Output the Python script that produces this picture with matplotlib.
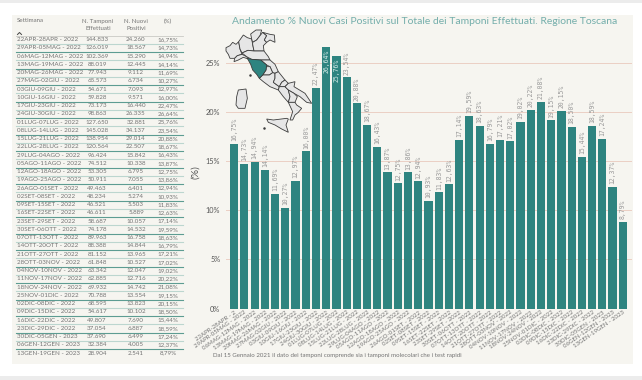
#!/bin/env python3

import matplotlib
matplotlib.use('Agg')
import matplotlib.pyplot as plt
from matplotlib.patches import Polygon, Rectangle

plt.rcParams['font.family'] = ['Lato', 'DejaVu Sans']

settimane = ['22APR-28APR', '29APR-05MAG', '06MAG-12MAG', '13MAG-19MAG', '20MAG-26MAG',
             '27MAG-02GIU', '03GIU-09GIU', '10GIU-16GIU', '17GIU-23GIU', '24GIU-30GIU',
             '01LUG-07LUG', '08LUG-14LUG', '15LUG-21LUG', '22LUG-28LUG', '29LUG-04AGO',
             '05AGO-11AGO', '12AGO-18AGO', '19AGO-25AGO', '26AGO-01SET', '02SET-08SET',
             '09SET-15SET', '16SET-22SET', '23SET-29SET', '30SET-06OTT', '07OTT-13OTT',
             '14OTT-20OTT', '21OTT-27OTT', '28OTT-03NOV', '04NOV-10NOV', '11NOV-17NOV',
             '18NOV-24NOV', '25NOV-01DIC', '02DIC-08DIC', '09DIC-15DIC', '16DIC-22DIC',
             '23DIC-29DIC', '30DIC-05GEN', '06GEN-12GEN', '13GEN-19GEN']
anni = ['2022'] * 36 + ['2023'] * 3
tamponi = ['144.833', '126.019', '102.369', '88.019', '77.943', '65.573', '54.671', '59.828',
           '73.173', '98.863', '127.650', '145.028', '138.954', '120.564', '96.424', '74.512',
           '53.305', '50.911', '49.463', '48.234', '46.521', '46.611', '58.687', '74.178',
           '89.963', '88.388', '81.152', '61.848', '63.342', '62.885', '69.932', '70.788',
           '68.595', '54.617', '49.807', '37.054', '37.690', '32.384', '28.904']
positivi = ['24.260', '18.567', '15.290', '12.445', '9.112', '6.734', '7.093', '9.571',
            '16.440', '26.335', '32.881', '34.137', '29.014', '22.507', '15.842', '10.338',
            '6.795', '7.055', '6.401', '5.274', '5.503', '5.889', '10.057', '14.532',
            '16.758', '14.844', '13.965', '10.527', '12.047', '12.716', '14.742', '13.554',
            '13.823', '10.102', '7.690', '6.887', '6.499', '4.005', '2.541']
percentuali = [16.75, 14.73, 14.94, 14.14, 11.69, 10.27, 12.97, 16.00, 22.47, 26.64, 25.76,
               23.54, 20.88, 18.67, 16.43, 13.87, 12.75, 13.86, 12.94, 10.93, 11.83, 12.63,
               17.14, 19.59, 18.63, 16.79, 17.21, 17.02, 19.02, 20.22, 21.08, 19.15, 20.15,
               18.50, 15.44, 18.59, 17.24, 12.37, 8.79]
yticks = [0, 5, 10, 15, 20, 25]

titolo = 'Andamento % Nuovi Casi Positivi sul Totale dei Tamponi Effettuati. Regione Toscana'
nota = 'Dal 15 Gennaio 2021 il dato dei tamponi comprende sia i tamponi molecolari che i test rapidi'

TEAL = '#2e8480'
GREY = '#747474'
W, H = 642, 380


def pct(v):
    return ('%.2f%%' % v).replace('.', ',')


def axes_px(x0, y0, x1, y1):
    # rectangle in picture pixels, y going down
    return [x0 / W, 1 - y1 / H, (x1 - x0) / W, (y1 - y0) / H]


fig = plt.figure(figsize=(W / 100, H / 100), dpi=100, facecolor='white')

# background, table and other text in pixel coords
bg = fig.add_axes([0, 0, 1, 1], zorder=0)
bg.set_xlim(0, W)
bg.set_ylim(H, 0)
bg.axis('off')
bg.add_patch(Rectangle((0, 0), W, 3, color='#ececec', lw=0))
bg.add_patch(Rectangle((0, 376), W, 4, color='#ececec', lw=0))
bg.add_patch(Rectangle((12, 15), 621, 349, color='#f6f5f0', lw=0))

bg.text(17, 21, 'Settimana', fontsize=4.4, color=GREY, va='center')
bg.text(98, 25, 'N. Tamponi\nEffettuati', fontsize=4.4, color=GREY, ha='center', va='center', linespacing=1.5)
bg.text(136, 25, 'N. Nuovi\nPositivi', fontsize=4.4, color=GREY, ha='center', va='center', linespacing=1.5)
bg.text(168, 21, '(%)', fontsize=4.4, color=GREY, ha='center', va='center')
bg.plot([17.5, 19.5, 21.5], [34.5, 32.5, 34.5], color='#444444', lw=0.7)
bg.plot([16, 183], [35.8, 35.8], color='#c9c9c4', lw=0.6)

for i, s in enumerate(settimane):
    y = 39.7 + 8.25 * i
    bg.text(17, y, s + ' - ' + anni[i], fontsize=4.5, color=GREY, va='center')
    bg.text(97, y, tamponi[i], fontsize=4.5, color=GREY, ha='center', va='center')
    bg.text(136, y, positivi[i], fontsize=4.5, color=GREY, ha='center', va='center')
    bg.text(168, y, pct(percentuali[i]), fontsize=4.5, color=GREY, ha='center', va='center')
    if i < len(settimane) - 1:
        col = '#5d9c92' if i % 2 else '#bcd6cf'
        bg.plot([16, 183], [y + 4.1, y + 4.1], color=col, lw=0.8)

bg.text(232, 22, titolo, fontsize=7.47, color='#74aeab', va='center')
bg.text(213, 355, nota, fontsize=4.45, color=GREY, va='center')
bg.text(196, 172, '(%)', fontsize=7.5, color='#555555', rotation=90, ha='center', va='center')

# bars
ax = fig.add_axes(axes_px(226, 38.5, 632, 308.5), zorder=1)
ax.patch.set_alpha(0)
xs = list(range(len(percentuali)))
ax.bar(xs, percentuali, width=0.8, color=TEAL, zorder=2)
ax.set_xlim(-0.80, 38.9)
ax.set_ylim(0, 27.5)
ax.set_yticks(yticks)
ax.set_yticklabels(['%d%%' % v for v in yticks], fontsize=5.3, color='#555555')
ax.yaxis.grid(True, color='#ebcfc4', lw=0.7, zorder=1)
ax.set_axisbelow(True)
for sp in ax.spines.values():
    sp.set_visible(False)
ax.tick_params(length=0, pad=4)

labels = [s + ' - ' + a for s, a in zip(settimane, anni)]
labels[0] = settimane[0] + ' - 2'
ax.set_xticks(xs)
ax.set_xticklabels(labels, rotation=35, ha='right', rotation_mode='anchor', fontsize=4.4, color=GREY)
ax.tick_params(axis='x', pad=1)

for x, v in zip(xs, percentuali):
    if v > 25:
        ax.annotate(pct(v), (x, v), xytext=(0, -2), textcoords='offset points', rotation=90,
                    ha='center', va='top', fontsize=4.7, family='DejaVu Sans Mono', color='#d8ecea')
    else:
        ax.annotate(pct(v), (x, v), xytext=(0, 2), textcoords='offset points', rotation=90,
                    ha='center', va='bottom', fontsize=4.7, family='DejaVu Sans Mono', color='#9a9a9a')

# italy, rough regions, coords read from a 3x crop
regioni = [
    [(18, 68), (30, 62), (38, 52), (48, 58), (56, 50), (60, 72), (66, 88), (52, 92), (44, 100), (30, 100), (25, 88), (18, 78)],
    [(56, 50), (70, 30), (82, 38), (95, 42), (98, 58), (102, 78), (84, 76), (66, 84), (60, 72)],
    [(92, 27), (108, 15), (125, 15), (120, 32), (110, 45), (98, 52), (95, 42)],
    [(110, 45), (120, 32), (128, 22), (140, 32), (133, 45), (140, 52), (130, 62), (132, 78), (102, 78), (98, 58), (98, 52)],
    [(128, 22), (150, 28), (163, 30), (165, 52), (150, 45), (140, 52), (133, 45), (140, 32)],
    [(44, 100), (52, 92), (66, 88), (80, 95), (85, 102), (70, 97), (55, 105), (42, 110)],
    [(66, 84), (84, 76), (102, 78), (132, 78), (145, 95), (150, 105), (122, 105), (95, 103), (80, 95)],
    [(150, 105), (165, 118), (175, 140), (165, 145), (158, 143), (150, 125), (140, 120), (122, 105)],
    [(138, 125), (150, 125), (158, 143), (148, 150), (128, 150), (138, 135)],
    [(118, 160), (128, 150), (148, 150), (158, 143), (165, 145), (165, 160), (160, 172), (178, 185), (175, 195), (150, 185), (130, 170)],
    [(175, 140), (195, 165), (185, 172), (178, 185), (160, 172), (165, 160), (165, 145)],
    [(195, 165), (205, 175), (195, 185), (178, 185), (185, 172)],
    [(178, 185), (195, 185), (205, 195), (210, 215), (205, 232), (190, 215), (175, 195)],
    [(205, 175), (225, 170), (222, 185), (255, 205), (275, 235), (260, 232), (240, 215), (222, 205), (205, 195), (195, 185)],
    [(205, 195), (222, 205), (232, 215), (225, 232), (205, 232), (210, 215)],
    [(205, 232), (225, 232), (230, 240), (245, 250), (235, 262), (225, 270), (218, 285), (210, 285), (218, 260)],
    [(140, 282), (160, 285), (200, 280), (205, 282), (198, 300), (205, 322), (185, 312), (165, 300), (145, 292)],
    [(55, 195), (78, 192), (82, 220), (75, 250), (55, 250), (48, 240), (50, 215)],
]
toscana = [(82, 100), (95, 103), (122, 105), (140, 120), (138, 135), (128, 150), (118, 160), (110, 148), (98, 135), (92, 118)]
isole = [(90, 150), (132, 310)]

m = fig.add_axes([0, 0, 1, 1], zorder=2)
m.set_xlim(0, W)
m.set_ylim(H, 0)
m.axis('off')
m.patch.set_alpha(0)


def px(poly):
    return [(220 + a / 3, 25 + b / 3) for a, b in poly]


for r in regioni:
    m.add_patch(Polygon(px(r), closed=True, fc='#e6e6e6', ec='#3c3c3c', lw=0.6))
m.add_patch(Polygon(px(toscana), closed=True, fc=TEAL, ec='#3c3c3c', lw=0.6))
m.plot(*zip(*px(isole)), ls='none', marker='o', ms=0.8, color='#3c3c3c')

fig.savefig('out.png', dpi=100, facecolor='white')
